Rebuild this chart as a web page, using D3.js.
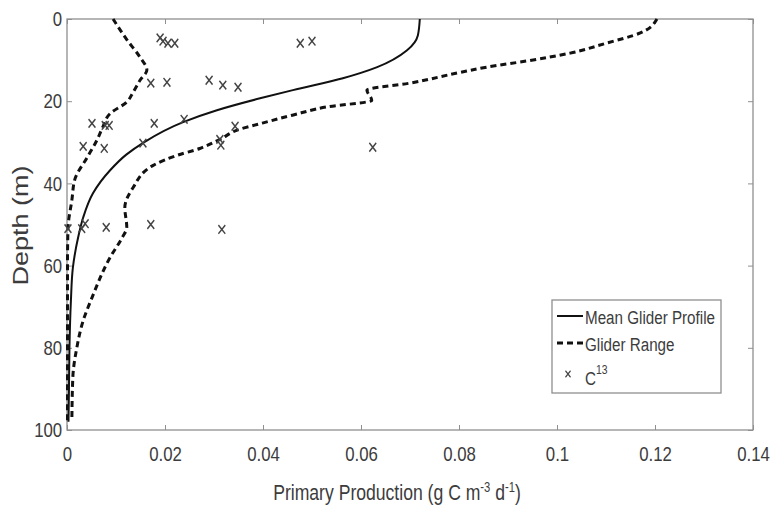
<!DOCTYPE html>
<html>
<head>
<meta charset="utf-8">
<script src="https://cdn.jsdelivr.net/npm/d3@7"></script>
<style>
  body { margin: 0; background: #fff; }
  svg { display: block; font-family: "Liberation Sans", Arial, sans-serif; }
</style>
</head>
<body>
<div id="chart"></div>
<script>
// ----------------------------------------
// DATA
// ----------------------------------------
const meanDepth = [0, 4, 7.6, 11.7, 14.4, 17.3, 19.3, 22.2, 25.1, 30, 33, 36.8, 42.4, 48.3, 53, 60.5, 68.5, 80, 90, 98];
const meanPP = [0.072, 0.0716, 0.0694, 0.0633, 0.0563, 0.0461, 0.0394, 0.0306, 0.0237, 0.0157, 0.0121, 0.0088, 0.0053, 0.0033, 0.0023, 0.0012, 0.0008, 0.0005, 0.0004, 0.0003];

const maxDepth = [0, 3.4, 5.9, 8.3, 10.2, 11.7, 13, 15.6, 17.3, 19.8, 21.4, 23.4, 25.6, 26.8, 29.3, 31.5, 33.2, 35.6, 41, 45.9, 50.7, 53.3, 58, 67.8, 73.4, 80, 87, 97];
const maxPP = [0.1204, 0.117, 0.110, 0.1027, 0.0939, 0.0857, 0.0802, 0.070, 0.0612, 0.0622, 0.053, 0.046, 0.039, 0.0353, 0.0312, 0.0271, 0.0224, 0.0176, 0.0135, 0.0118, 0.0122, 0.0112, 0.0088, 0.0051, 0.0033, 0.002, 0.0012, 0.001];

const minDepth = [0, 5, 9.3, 12.4, 14.9, 17.8, 20.2, 23, 26.3, 29.5, 33.7, 39, 44, 51, 60, 80, 98];
const minPP = [0.0094, 0.0122, 0.0149, 0.0163, 0.0149, 0.0135, 0.0122, 0.0088, 0.0073, 0.0061, 0.0041, 0.0016, 0.001, 0.0002, 0.0001, 0.0001, 0.0001];

const c13PP = [0.019, 0.0196, 0.0206, 0.022, 0.0476, 0.05, 0.0171, 0.0204, 0.029, 0.0318, 0.0349, 0.0051, 0.0078, 0.0086, 0.0178, 0.0239, 0.0343, 0.0312, 0.0314, 0.0033, 0.0076, 0.0155, 0.0624, 0.0002, 0.0037, 0.003, 0.008, 0.0171, 0.0316];
const c13Depth = [4.6, 5.4, 5.9, 5.9, 5.9, 5.4, 15.6, 15.4, 14.9, 16.1, 16.6, 25.4, 25.9, 25.9, 25.4, 24.4, 26.1, 29.3, 30.7, 31, 31.5, 30.2, 31.2, 51, 49.8, 51, 50.7, 50, 51.2];

const xTicks = [0, 0.02, 0.04, 0.06, 0.08, 0.1, 0.12, 0.14];
const yTicks = [0, 20, 40, 60, 80, 100];
const legendLabels = ["Mean Glider Profile", "Glider Range", "C"];

// ----------------------------------------
// SETUP
// ----------------------------------------
const width = 771, height = 514;
const margin = { top: 19, right: 18, bottom: 84, left: 67 };
const innerW = width - margin.left - margin.right;
const innerH = height - margin.top - margin.bottom;
const squeeze = 0.8;   // the figure's text looks horizontally squashed
const axisGrey = "#8f8f8f", textGrey = "#3c3c3c";

const svg = d3.select("#chart").append("svg")
  .attr("width", width)
  .attr("height", height);

svg.append("rect").attr("width", width).attr("height", height).attr("fill", "#fff");

const g = svg.append("g")
  .attr("transform", `translate(${margin.left},${margin.top})`);

const x = d3.scaleLinear().domain([0, 0.14]).range([0, innerW]);
const y = d3.scaleLinear().domain([0, 100]).range([0, innerH]);

// ----------------------------------------
// AXES (box with inward ticks)
// ----------------------------------------
const fmt = d3.format("~g");

const xAxis = g.append("g")
  .attr("transform", `translate(0,${innerH})`)
  .call(d3.axisBottom(x).tickValues(xTicks).tickFormat(fmt).tickSizeInner(-5).tickSizeOuter(0).tickPadding(16));

const xTop = g.append("g")
  .call(d3.axisTop(x).tickValues(xTicks).tickFormat("").tickSizeInner(-5).tickSizeOuter(0));

const yAxis = g.append("g")
  .call(d3.axisLeft(y).tickValues(yTicks).tickSizeInner(-5).tickSizeOuter(0).tickPadding(6));

const yRight = g.append("g")
  .attr("transform", `translate(${innerW},0)`)
  .call(d3.axisRight(y).tickValues(yTicks).tickFormat("").tickSizeInner(-5).tickSizeOuter(0));

[xAxis, xTop, yAxis, yRight].forEach(a => {
  a.select(".domain").remove();
  a.selectAll("line").attr("stroke", axisGrey).attr("stroke-width", 1);
  a.selectAll("text")
    .attr("fill", textGrey)
    .style("font-size", "21px")
    .attr("transform", `scale(${squeeze},1)`);
});

g.append("rect")
  .attr("width", innerW)
  .attr("height", innerH)
  .attr("fill", "none")
  .attr("stroke", axisGrey)
  .attr("stroke-width", 1.3);

// axis titles
const xLabel = svg.append("text")
  .attr("transform", `translate(${margin.left + innerW / 2 - 13},${height - 14}) scale(${squeeze},1)`)
  .attr("text-anchor", "middle")
  .attr("fill", textGrey)
  .style("font-size", "22px");
xLabel.append("tspan").text("Primary Production (g C m");
xLabel.append("tspan").attr("dy", -8).style("font-size", "14px").text("-3");
xLabel.append("tspan").attr("dy", 8).text(" d");
xLabel.append("tspan").attr("dy", -8).style("font-size", "14px").text("-1");
xLabel.append("tspan").attr("dy", 8).text(")");

svg.append("text")
  .attr("transform", `translate(28,${margin.top + innerH / 2 + 1}) scale(${squeeze},1) rotate(-90)`)
  .attr("text-anchor", "middle")
  .attr("fill", textGrey)
  .style("font-size", "27px")
  .text("Depth (m)");

// ----------------------------------------
// PROFILES
// ----------------------------------------
const line = d3.line()
  .x(d => x(d[0]))
  .y(d => y(d[1]))
  .curve(d3.curveMonotoneY);

const mean = meanPP.map((v, i) => [v, meanDepth[i]]);
const rangeMax = maxPP.map((v, i) => [v, maxDepth[i]]);
const rangeMin = minPP.map((v, i) => [v, minDepth[i]]);

[rangeMin, rangeMax].forEach(series => {
  g.append("path")
    .datum(series)
    .attr("fill", "none")
    .attr("stroke", "#111")
    .attr("stroke-width", 3)
    .attr("stroke-dasharray", "6,4")
    .attr("d", line);
});

g.append("path")
  .datum(mean)
  .attr("fill", "none")
  .attr("stroke", "#111")
  .attr("stroke-width", 2)
  .attr("d", line);

// ----------------------------------------
// C13 POINTS
// ----------------------------------------
const cross = d3.symbol().type(d3.symbolX).size(50);

g.selectAll(".c13")
  .data(c13PP.map((v, i) => [v, c13Depth[i]]))
  .join("path")
  .attr("class", "c13")
  .attr("transform", d => `translate(${x(d[0])},${y(d[1])}) scale(${squeeze},1)`)
  .attr("d", cross)
  .attr("fill", "none")
  .attr("stroke", "#444")
  .attr("stroke-width", 1.7);

// ----------------------------------------
// LEGEND
// ----------------------------------------
const legend = svg.append("g").attr("transform", "translate(552,300)");

legend.append("rect")
  .attr("width", 169)
  .attr("height", 93)
  .attr("fill", "#fff")
  .attr("stroke", axisGrey)
  .attr("stroke-width", 1.3);

legend.append("line")
  .attr("x1", 5).attr("x2", 31).attr("y1", 16).attr("y2", 16)
  .attr("stroke", "#111").attr("stroke-width", 2);

legend.append("line")
  .attr("x1", 5).attr("x2", 31).attr("y1", 43).attr("y2", 43)
  .attr("stroke", "#111").attr("stroke-width", 3).attr("stroke-dasharray", "6,4");

legend.append("path")
  .attr("transform", `translate(16,74) scale(${squeeze},1)`)
  .attr("d", d3.symbol().type(d3.symbolX).size(28))
  .attr("fill", "none").attr("stroke", "#444").attr("stroke-width", 1.5);

const legendY = [24, 51, 85];
legendLabels.forEach((lab, i) => {
  const t = legend.append("text")
    .attr("transform", `translate(33,${legendY[i]}) scale(${squeeze},1)`)
    .attr("fill", textGrey)
    .style("font-size", "19px")
    .text(lab);
  if (i === 2) {
    t.append("tspan").attr("dy", -11).style("font-size", "13px").text("13");
  }
});
</script>
</body>
</html>
